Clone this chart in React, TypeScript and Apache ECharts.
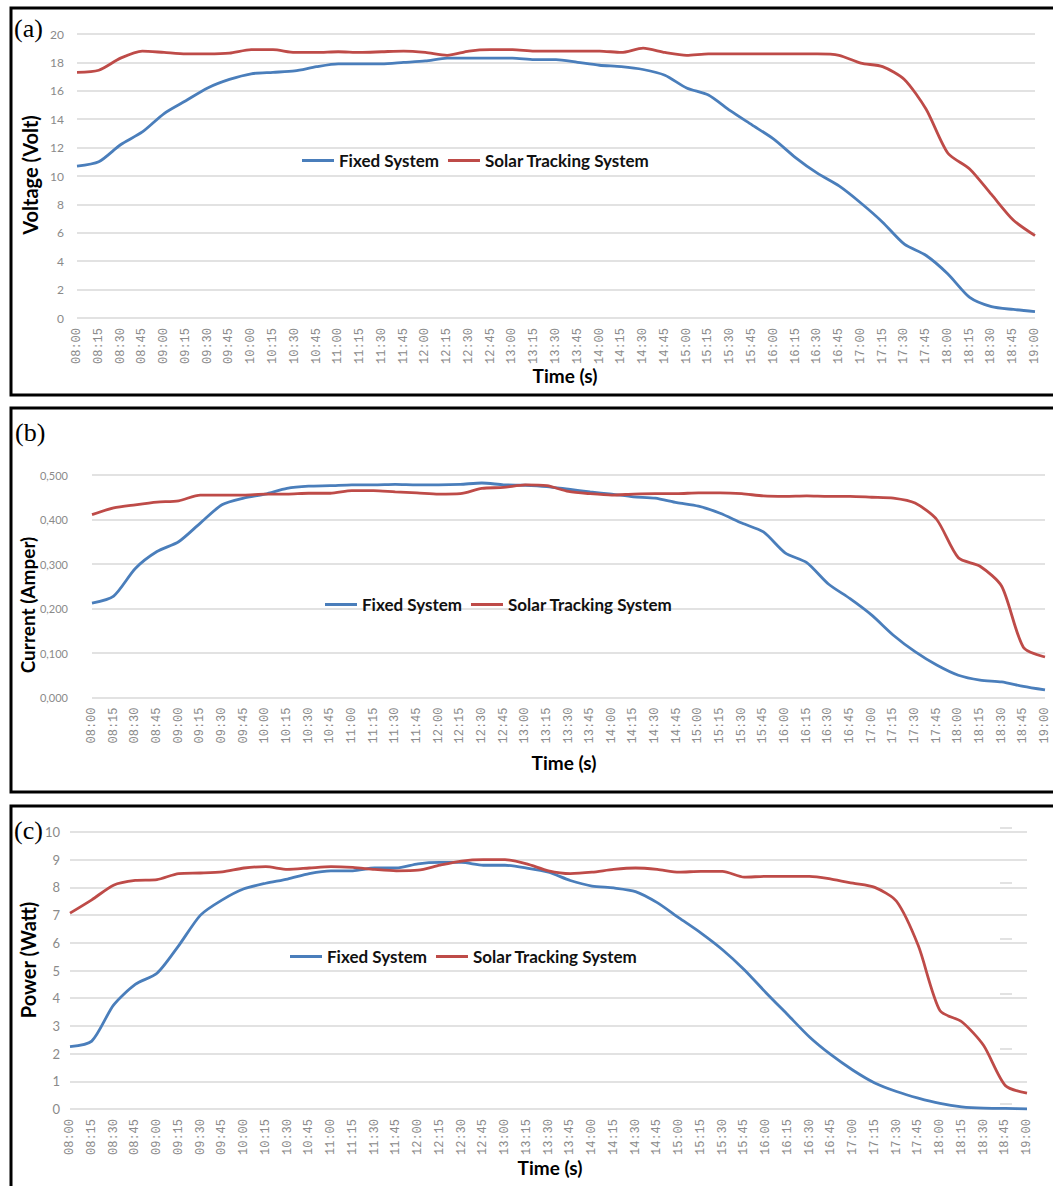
import React, { useEffect, useRef } from "react";
import * as echarts from "echarts";

const times = [
  "08:00", "08:15", "08:30", "08:45", "09:00", "09:15", "09:30", "09:45",
  "10:00", "10:15", "10:30", "10:45", "11:00", "11:15", "11:30", "11:45",
  "12:00", "12:15", "12:30", "12:45", "13:00", "13:15", "13:30", "13:45",
  "14:00", "14:15", "14:30", "14:45", "15:00", "15:15", "15:30", "15:45",
  "16:00", "16:15", "16:30", "16:45", "17:00", "17:15", "17:30", "17:45",
  "18:00", "18:15", "18:30", "18:45", "19:00",
];

const seriesNames = ["Fixed System", "Solar Tracking System"];

// (a) Voltage (Volt)
const voltageFixed = [
  10.7, 11.0, 12.2, 13.1, 14.4, 15.3, 16.2, 16.8, 17.2, 17.3, 17.4, 17.7,
  17.9, 17.9, 17.9, 18.0, 18.1, 18.3, 18.3, 18.3, 18.3, 18.2, 18.2, 18.0,
  17.8, 17.7, 17.5, 17.1, 16.2, 15.7, 14.6, 13.6, 12.6, 11.3, 10.2, 9.3,
  8.1, 6.75, 5.2, 4.4, 3.1, 1.45, 0.8, 0.6, 0.45,
];
const voltageTracking = [
  17.3, 17.45, 18.3, 18.8, 18.7, 18.6, 18.6, 18.65, 18.9, 18.9, 18.7, 18.7,
  18.75, 18.7, 18.75, 18.8, 18.7, 18.5, 18.8, 18.9, 18.9, 18.8, 18.8, 18.8,
  18.8, 18.7, 19.0, 18.7, 18.5, 18.6, 18.6, 18.6, 18.6, 18.6, 18.6, 18.5,
  17.95, 17.7, 16.8, 14.7, 11.6, 10.5, 8.7, 6.9, 5.8,
];

// (b) Current (Amper)
const currentFixed = [
  0.212, 0.228, 0.29, 0.328, 0.35, 0.392, 0.433, 0.448, 0.457, 0.47, 0.475,
  0.476, 0.478, 0.478, 0.479, 0.478, 0.478, 0.479, 0.482, 0.478, 0.477,
  0.474, 0.468, 0.462, 0.457, 0.451, 0.448, 0.438, 0.43, 0.414, 0.392,
  0.372, 0.325, 0.303, 0.255, 0.222, 0.185, 0.14, 0.103, 0.073, 0.05,
  0.039, 0.035, 0.025, 0.017,
];
const currentTracking = [
  0.411, 0.426, 0.433, 0.439, 0.442, 0.455, 0.455, 0.455, 0.457, 0.457,
  0.459, 0.459, 0.465, 0.465, 0.462, 0.46, 0.457, 0.458, 0.47, 0.472, 0.478,
  0.476, 0.463, 0.458, 0.455, 0.457, 0.458, 0.458, 0.46, 0.46, 0.458, 0.453,
  0.452, 0.453, 0.452, 0.452, 0.45, 0.448, 0.437, 0.4, 0.314, 0.295, 0.25,
  0.113, 0.091,
];

// (c) Power (Watt)
const powerFixed = [
  2.25, 2.45, 3.75, 4.5, 4.9, 5.9, 7.0, 7.55, 7.95, 8.15, 8.3, 8.5, 8.6,
  8.6, 8.7, 8.7, 8.85, 8.9, 8.9, 8.8, 8.8, 8.7, 8.55, 8.25, 8.05, 7.98,
  7.85, 7.45, 6.9, 6.36, 5.75, 5.03, 4.2, 3.4, 2.6, 1.95, 1.4, 0.94, 0.63,
  0.39, 0.2, 0.08, 0.03, 0.02, 0.0,
];
const powerTracking = [
  7.07, 7.55, 8.08, 8.25, 8.28, 8.5, 8.52, 8.56, 8.7, 8.75, 8.65, 8.7, 8.75,
  8.72, 8.65, 8.6, 8.62, 8.8, 8.95, 9.0, 9.0, 8.85, 8.6, 8.5, 8.55, 8.65,
  8.7, 8.65, 8.55, 8.58, 8.58, 8.37, 8.4, 8.4, 8.4, 8.3, 8.15, 8.0, 7.5,
  5.9, 3.55, 3.15, 2.3, 0.85, 0.57,
];

const BLUE = "#4A7EBB";
const RED = "#BE4B48";
const GRID = "#d9d9d9";
const LABEL = "#8a8a8a";
const TITLE_FONT = "Lato, 'Open Sans', sans-serif";

export default function App() {
  const ref = useRef<HTMLDivElement>(null);

  useEffect(() => {
    if (!ref.current) return;
    const chart = echarts.init(ref.current, null, { renderer: "svg" });

    const xAxisFor = (g: number) => ({
      type: "category",
      gridIndex: g,
      data: times,
      boundaryGap: false,
      axisLine: { show: false },
      axisTick: { show: false },
      splitLine: { show: false },
      axisLabel: {
        interval: 0,
        rotate: 90,
        fontSize: 12,
        fontFamily: "'Liberation Mono', monospace",
        color: LABEL,
        margin: 10,
      },
    });

    const yBase = (g: number, min: number, max: number, interval: number, margin: number, fontSize: number, formatter?: any) => ({
      type: "value",
      gridIndex: g,
      min,
      max,
      interval,
      axisLine: { show: false },
      axisTick: { show: false },
      splitLine: { show: true, lineStyle: { color: GRID, width: 1.5 } },
      axisLabel: {
        color: LABEL,
        fontSize,
        fontFamily: "Lato, sans-serif",
        margin,
        formatter,
      },
    });

    const line = (name: string, data: number[], idx: number, color: string) => ({
      type: "line",
      name,
      data,
      xAxisIndex: idx,
      yAxisIndex: idx,
      symbol: "none",
      smooth: 0.25,
      lineStyle: { color, width: 2.8 },
      itemStyle: { color },
    });

    const legendFor = (left: number, top: number) => ({
      data: seriesNames,
      left,
      top,
      orient: "horizontal",
      icon: "rect",
      itemWidth: 32,
      itemHeight: 3,
      itemGap: 9,
      selectedMode: false,
      textStyle: {
        fontFamily: TITLE_FONT,
        fontWeight: "bold",
        fontSize: 17,
        color: "#111",
      },
    });

    const border = (y: number, h: number) => ({
      type: "rect",
      shape: { x: 11, y, width: 1100, height: h },
      style: { fill: "none", stroke: "#000", lineWidth: 3 },
      silent: true,
    });

    const panelLabel = (text: string, x: number, y: number) => ({
      type: "text",
      x,
      y,
      style: {
        text,
        fontFamily: "'Liberation Serif', 'Times New Roman', serif",
        fontSize: 26,
        fill: "#000",
        textVerticalAlign: "middle",
      },
    });

    const title = (text: string, x: number, y: number, size: number, rotation = 0) => ({
      type: "text",
      x,
      y,
      rotation,
      style: {
        text,
        fontFamily: TITLE_FONT,
        fontWeight: "bold",
        fontSize: size,
        fill: "#000",
        textAlign: "center",
        textVerticalAlign: "middle",
      },
    });

    const option = {
      animation: false,
      backgroundColor: "#fff",
      grid: [
        { left: 77, right: 18, top: 34, height: 284 },
        { left: 92, right: 8, top: 475, height: 222.5 },
        { left: 70, right: 26, top: 832, height: 277 },
        { left: 1000, width: 35, top: 828, height: 276 },
      ],
      xAxis: [
        xAxisFor(0),
        xAxisFor(1),
        xAxisFor(2),
        { type: "value", gridIndex: 3, show: false, min: 0, max: 1 },
      ],
      yAxis: [
        yBase(0, 0, 20, 2, 13, 12),
        yBase(1, 0, 0.5, 0.1, 24, 11, (v: number) => v.toFixed(3).replace(".", ",")),
        yBase(2, 0, 10, 1, 10, 13),
        {
          type: "value",
          gridIndex: 3,
          position: "right",
          min: 0,
          max: 10,
          interval: 2,
          axisLine: { show: false },
          axisTick: { show: true, length: 12, inside: false, lineStyle: { color: GRID, width: 1.5 } },
          axisLabel: { show: false },
          splitLine: { show: false },
        },
      ],
      legend: [legendFor(297, 147), legendFor(320, 591), legendFor(285, 943)],
      series: [
        line(seriesNames[0], voltageFixed, 0, BLUE),
        line(seriesNames[1], voltageTracking, 0, RED),
        line(seriesNames[0], currentFixed, 1, BLUE),
        line(seriesNames[1], currentTracking, 1, RED),
        line(seriesNames[0], powerFixed, 2, BLUE),
        line(seriesNames[1], powerTracking, 2, RED),
      ],
      graphic: [
        border(8, 387),
        border(408, 384),
        border(806, 500),
        panelLabel("(a)", 14, 28),
        panelLabel("(b)", 15, 432),
        panelLabel("(c)", 14, 830),
        title("Time (s)", 565, 375, 19),
        title("Time (s)", 564, 762, 19),
        title("Time (s)", 550, 1167, 19),
        title("Voltage (Volt)", 30, 175, 20, Math.PI / 2),
        title("Current (Amper)", 27, 605, 19, Math.PI / 2),
        title("Power (Watt)", 28, 960, 20, Math.PI / 2),
      ],
    };

    chart.setOption(option as any);
    return () => chart.dispose();
  }, []);

  return (
    <div
      ref={ref}
      style={{ position: "absolute", left: 0, top: 0, width: 1053, height: 1186, overflow: "hidden", background: "#fff" }}
    />
  );
}
